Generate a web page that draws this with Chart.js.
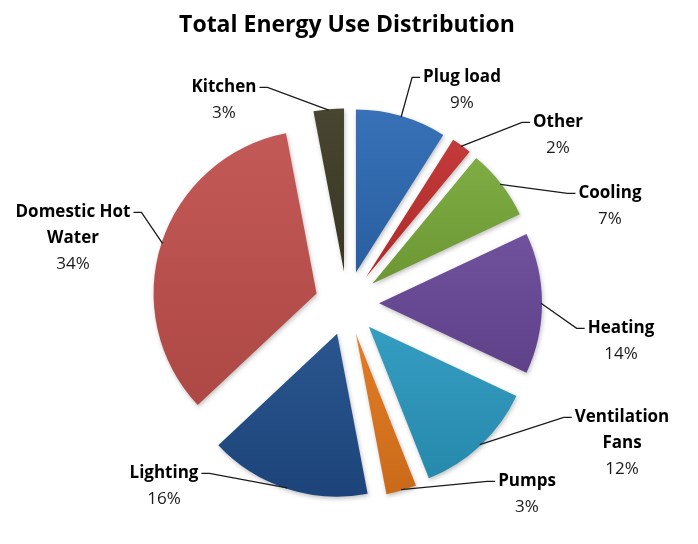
<!DOCTYPE html>
<html>
<head>
<meta charset="utf-8">
<title>Total Energy Use Distribution</title>
<script src="https://cdn.jsdelivr.net/npm/chart.js@4.4.1/dist/chart.umd.min.js"></script>
<style>
  html, body { margin: 0; padding: 0; background: #fff; }
</style>
</head>
<body>
<canvas id="grafico" width="698" height="544"></canvas>
<script>
// data, clockwise from 12 o'clock
var categorias = ['Plug load', 'Other', 'Cooling', 'Heating', 'Ventilation Fans', 'Pumps', 'Lighting', 'Domestic Hot Water', 'Kitchen'];
var porcentajes = [9, 2, 7, 14, 12, 3, 16, 34, 3];
// label text split the way it wraps on the picture
var lineasEtiqueta = [['Plug load'], ['Other'], ['Cooling'], ['Heating'], ['Ventilation', 'Fans'], ['Pumps'], ['Lighting'], ['Domestic Hot', 'Water'], ['Kitchen']];

var colores = ['#2e6ab3', '#c0302f', '#78a83a', '#684898', '#2a98bf', '#e0761c', '#1f4c88', '#c0504d', '#3e3c26'];

// label layout: first-line baseline relative to pie centre, side the leader line leaves from
var posEtiquetas = [
  [115, -221, 'l'],
  [211, -176, 'l'],
  [263, -105, 'l'],
  [274, 30, 'l'],
  [275, 119, 'l'],
  [180, 183, 'l'],
  [-183, 175, 'r'],
  [-274, -86, 'r'],
  [-123, -211, 'r']
];

var explotar = 32;
var radio = 163;
var fuente = '"Open Sans", Lato, sans-serif';

function mezclar(hex, otro, t) {
  var a = parseInt(hex.slice(1), 16), b = parseInt(otro.slice(1), 16);
  var r = Math.round(((a >> 16) & 255) * (1 - t) + ((b >> 16) & 255) * t);
  var g = Math.round(((a >> 8) & 255) * (1 - t) + ((b >> 8) & 255) * t);
  var bl = Math.round((a & 255) * (1 - t) + (b & 255) * t);
  return 'rgb(' + r + ',' + g + ',' + bl + ')';
}

// light-to-dark shading per slice, like the original
function colorPorcion(c) {
  var area = c.chart.chartArea;
  var base = colores[c.dataIndex];
  if (!area || c.type !== 'data') return base;
  var total = porcentajes.reduce(function(s, v) { return s + v; }, 0);
  var acum = 0;
  for (var k = 0; k < c.dataIndex; k++) acum += porcentajes[k];
  var a0 = -Math.PI / 2 + 2 * Math.PI * acum / total;
  var a1 = a0 + 2 * Math.PI * porcentajes[c.dataIndex] / total;
  var cy = (area.top + area.bottom) / 2;
  var ys = [cy, cy + radio * Math.sin(a0), cy + radio * Math.sin(a1)];
  for (var m = -3; m <= 3; m++) {
    var ang = Math.PI / 2 * m;
    if (ang > a0 && ang < a1) ys.push(cy + radio * Math.sin(ang));
  }
  var y0 = Math.min.apply(null, ys), y1 = Math.max.apply(null, ys);
  var grad = c.chart.ctx.createLinearGradient(0, y0, 0, y1 + 1);
  grad.addColorStop(0, mezclar(base, '#ffffff', 0.05));
  grad.addColorStop(1, mezclar(base, '#000000', 0.1));
  return grad;
}

// draw each arc pushed out along its middle angle
var pluginDespiece = {
  id: 'despiece',
  beforeDatasetDraw: function(chart, args) {
    var ctx = chart.ctx;
    args.meta.data.forEach(function(arc) {
      var medio = (arc.startAngle + arc.endAngle) / 2;
      ctx.save();
      ctx.translate(Math.cos(medio) * explotar, Math.sin(medio) * explotar);
      ctx.shadowColor = 'rgba(0,0,0,0.25)';
      ctx.shadowBlur = 4;
      ctx.shadowOffsetX = 1;
      ctx.shadowOffsetY = 2;
      arc.draw(ctx);
      ctx.restore();
    });
    return false;
  }
};

var pluginEtiquetas = {
  id: 'etiquetas',
  afterDatasetsDraw: function(chart) {
    var ctx = chart.ctx;
    var arcs = chart.getDatasetMeta(0).data;
    ctx.save();
    arcs.forEach(function(arc, i) {
      var medio = (arc.startAngle + arc.endAngle) / 2;
      var dist = explotar + arc.outerRadius - 1;
      var ax = arc.x + Math.cos(medio) * dist;
      var ay = arc.y + Math.sin(medio) * dist;
      var lx = arc.x + posEtiquetas[i][0];
      var ly = arc.y + posEtiquetas[i][1];
      ctx.font = 'bold 17px ' + fuente;
      var w = ctx.measureText(lineasEtiqueta[i][0]).width;
      var izq = posEtiquetas[i][2] === 'l';
      var sx = izq ? lx - w / 2 - 3 : lx + w / 2 + 3;
      var sy = ly - 5;
      ctx.strokeStyle = '#1a1a1a';
      ctx.lineWidth = 1.3;
      ctx.beginPath();
      ctx.moveTo(sx, sy);
      ctx.lineTo(sx + (izq ? -8 : 8), sy);
      ctx.lineTo(ax, ay);
      ctx.stroke();

      ctx.fillStyle = '#000';
      ctx.textAlign = 'center';
      ctx.textBaseline = 'alphabetic';
      lineasEtiqueta[i].forEach(function(t, k) {
        ctx.fillText(t, lx, ly + k * 26);
      });
      ctx.font = '17px ' + fuente;
      ctx.fillStyle = '#1a1a1a';
      ctx.fillText(porcentajes[i] + '%', lx, ly + lineasEtiqueta[i].length * 26);
    });
    ctx.restore();
  }
};

var grafico = new Chart(document.getElementById('grafico').getContext('2d'), {
  type: 'pie',
  data: {
    labels: categorias,
    datasets: [{
      data: porcentajes,
      backgroundColor: colorPorcion,
      borderWidth: 0,
      offset: 0
    }]
  },
  options: {
    responsive: false,
    animation: false,
    radius: radio,
    layout: { padding: { left: 0, right: 4, top: 0, bottom: 10 } },
    plugins: {
      legend: { display: false },
      tooltip: { enabled: false },
      title: {
        display: true,
        text: 'Total Energy Use Distribution',
        color: '#000',
        font: { family: fuente, size: 23, weight: 'bold' },
        padding: { top: 12, bottom: 33 }
      }
    }
  },
  plugins: [pluginDespiece, pluginEtiquetas]
});
</script>
</body>
</html>
